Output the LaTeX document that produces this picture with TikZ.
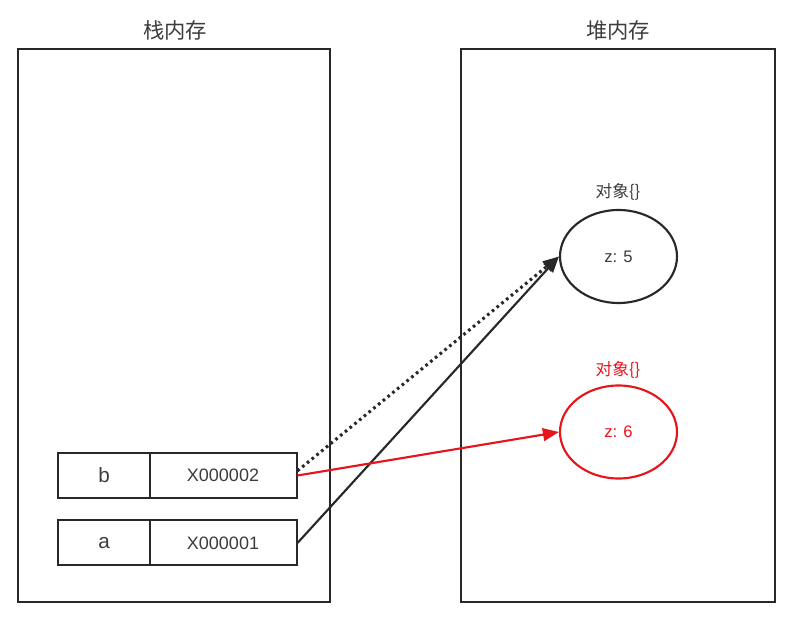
\documentclass[tikz,border=0pt]{standalone}
\usepackage{fontspec}
\setmainfont{Liberation Sans}
\newfontfamily\cjk{Noto Sans CJK SC}
\usetikzlibrary{shapes.geometric,arrows.meta}
\definecolor{ink}{RGB}{40,40,40}
\definecolor{txt}{RGB}{60,60,60}
\definecolor{myred}{RGB}{232,20,28}
\begin{document}
\begin{tikzpicture}[x=0.75pt,y=-0.75pt,
  frame/.style={draw=ink,line width=1.5pt,rectangle,inner sep=0pt},
  cell/.style={draw=ink,line width=1.5pt,rectangle,inner sep=0pt,minimum height=33.75pt,text=txt},
  obj/.style={draw=ink,line width=1.6pt,ellipse,inner sep=0pt,minimum width=87.75pt,minimum height=69.75pt,text=txt,font=\fontsize{12.5}{14}\selectfont},
  title/.style={text=txt,font=\cjk\fontsize{16}{18}\selectfont},
  objlbl/.style={text=txt,font=\cjk\fontsize{12.5}{14}\selectfont},
  tip/.style={-{Triangle[length=12pt,width=9.5pt]}}
]
\useasboundingbox (0,0) rectangle (800,630);
\node[frame,minimum width=234pt,minimum height=414.75pt] (stack) at (174,325.5) {};
\node[frame,minimum width=235.5pt,minimum height=414.75pt] (heap) at (618,325.5) {};
\node[title] (st) at (175,30) {栈内存};
\node[title] (ht) at (618,30) {堆内存};
% cells
\node[cell,minimum width=69pt,font=\fontsize{15.5}{17}\selectfont] (bn) at (104,475.5) {b};
\node[cell,minimum width=110.25pt,font=\fontsize{13.5}{15}\selectfont] (bv) at (223,475.5) {X000002};
\node[cell,minimum width=69pt,font=\fontsize{15.5}{17}\selectfont] (an) at (104,543) {a};
\node[cell,minimum width=110.25pt,font=\fontsize{13.5}{15}\selectfont] (av) at (223,543) {X000001};
% objects
\node[obj] (o1) at (618.5,256.5) {z: 5};
\node[objlbl] (o1l) at (618,192) {对象\{\}};
\node[obj,draw=myred,text=myred] (o2) at (618.5,432) {z: 6};
\node[objlbl,text=myred] (o2l) at (618,370) {对象\{\}};
% connectors
\coordinate (bd) at ([yshift=3.5pt]bv.east);
\draw[ink,line width=2.3pt,dash pattern=on 2pt off 2.6pt,tip] (bd) -- (o1.west);
\draw[ink,line width=1.6pt,tip] (av.east) -- (o1.west);
\draw[myred,line width=1.6pt,tip] (bv.east) -- (o2.west);
\end{tikzpicture}
\end{document}
